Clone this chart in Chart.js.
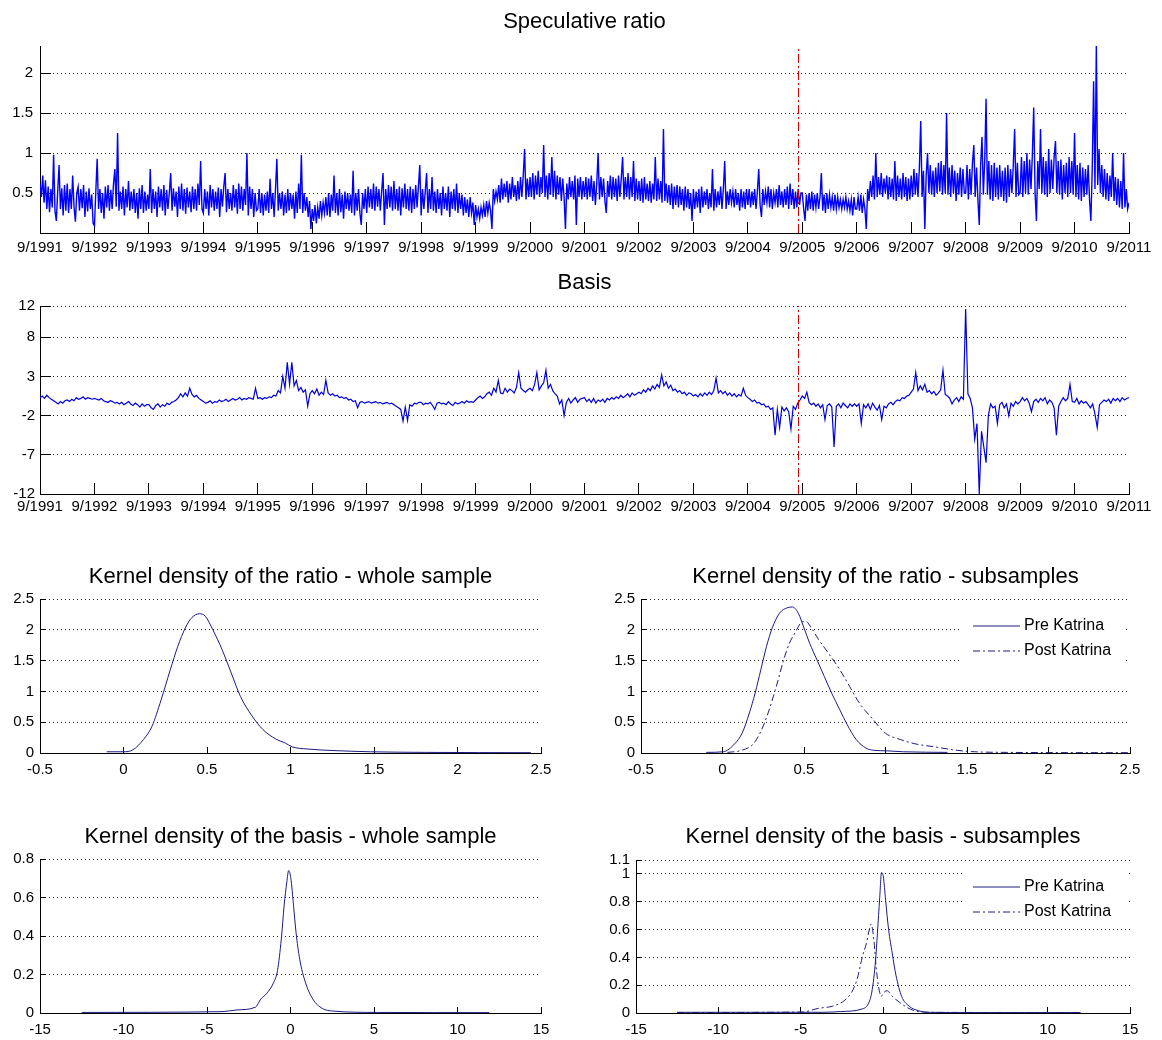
<!DOCTYPE html>
<html>
<head>
<meta charset="utf-8">
<script src="https://cdn.jsdelivr.net/npm/chart.js@4.4.1/dist/chart.umd.min.js"></script>
<style>
  html, body { margin: 0; padding: 0; background: #fff; }
  #page { position: relative; width: 1162px; height: 1040px; overflow: hidden; }
  #page canvas { position: absolute; left: 0; top: 0; }
</style>
</head>
<body>
<div id="page">
  <canvas id="ratioTs" width="1162" height="1040"></canvas>
  <canvas id="basisTs" width="1162" height="1040"></canvas>
  <canvas id="ratioWhole" width="1162" height="1040"></canvas>
  <canvas id="ratioSub" width="1162" height="1040"></canvas>
  <canvas id="basisWhole" width="1162" height="1040"></canvas>
  <canvas id="basisSub" width="1162" height="1040"></canvas>
</div>
<script>
// date axis: years counted from 9/1991
const dateLabels = ['9/1991', '9/1992', '9/1993', '9/1994', '9/1995', '9/1996', '9/1997', '9/1998', '9/1999', '9/2000',
  '9/2001', '9/2002', '9/2003', '9/2004', '9/2005', '9/2006', '9/2007', '9/2008', '9/2009', '9/2010', '9/2011'];
const katrina = [13.93];

// speculative ratio, 40 readings per year (one row = one year)
const ratioPerYear = 40;
const ratioValues = [
  0.62, 0.45, 0.72, 0.38, 0.66, 0.30, 0.58, 0.26, 0.55, 0.32, 0.98, 0.28, 0.15, 0.52, 0.85, 0.30, 0.56, 0.22, 0.60, 0.28,
  0.62, 0.25, 0.55, 0.30, 0.72, 0.33, 0.14, 0.50, 0.58, 0.28, 0.55, 0.31, 0.60, 0.20, 0.52, 0.27, 0.56, 0.30, 0.48, 0.12,
  0.09, 0.52, 0.93, 0.30, 0.55, 0.25, 0.50, 0.18, 0.58, 0.32, 0.60, 0.28, 0.54, 0.30, 0.62, 0.80, 0.33, 1.25, 0.28, 0.52,
  0.30, 0.58, 0.22, 0.55, 0.32, 0.65, 0.28, 0.52, 0.30, 0.55, 0.25, 0.50, 0.18, 0.56, 0.30, 0.60, 0.25, 0.52, 0.28, 0.48,
  0.30, 0.80, 0.25, 0.55, 0.30, 0.52, 0.20, 0.58, 0.32, 0.55, 0.28, 0.60, 0.22, 0.54, 0.30, 0.50, 0.75, 0.28, 0.56, 0.33,
  0.52, 0.20, 0.58, 0.30, 0.62, 0.28, 0.55, 0.24, 0.57, 0.32, 0.52, 0.26, 0.58, 0.30, 0.55, 0.28, 0.62, 0.35, 0.90, 0.30,
  0.25, 0.55, 0.30, 0.52, 0.22, 0.60, 0.32, 0.55, 0.28, 0.52, 0.30, 0.57, 0.20, 0.55, 0.33, 0.58, 0.75, 0.26, 0.55, 0.30,
  0.50, 0.28, 0.60, 0.32, 0.55, 0.24, 0.62, 0.30, 0.58, 0.28, 0.55, 0.35, 1.00, 0.22, 0.58, 0.30, 0.55, 0.20, 0.50, 0.28,
  0.30, 0.55, 0.25, 0.50, 0.22, 0.48, 0.28, 0.52, 0.25, 0.68, 0.30, 0.50, 0.20, 0.55, 0.93, 0.28, 0.50, 0.30, 0.52, 0.22,
  0.48, 0.25, 0.55, 0.28, 0.50, 0.30, 0.48, 0.18, 0.52, 0.25, 0.62, 0.30, 0.98, 0.25, 0.50, 0.28, 0.45, 0.20, 0.40, 0.05,
  0.30, 0.15, 0.35, 0.12, 0.32, 0.18, 0.40, 0.22, 0.38, 0.25, 0.45, 0.22, 0.50, 0.20, 0.48, 0.28, 0.72, 0.25, 0.50, 0.22,
  0.55, 0.26, 0.48, 0.18, 0.52, 0.30, 0.50, 0.28, 0.48, 0.25, 0.78, 0.22, 0.50, 0.28, 0.55, 0.25, 0.10, 0.50, 0.30, 0.55,
  0.25, 0.58, 0.32, 0.55, 0.30, 0.62, 0.28, 0.58, 0.33, 0.55, 0.28, 0.52, 0.75, 0.10, 0.55, 0.30, 0.60, 0.32, 0.58, 0.28,
  0.65, 0.30, 0.55, 0.28, 0.58, 0.22, 0.56, 0.32, 0.62, 0.30, 0.55, 0.28, 0.58, 0.25, 0.55, 0.30, 0.60, 0.32, 0.58, 0.85,
  0.22, 0.55, 0.30, 0.52, 0.75, 0.25, 0.55, 0.30, 0.70, 0.28, 0.52, 0.25, 0.55, 0.30, 0.50, 0.22, 0.58, 0.30, 0.50, 0.28,
  0.58, 0.20, 0.52, 0.30, 0.55, 0.28, 0.62, 0.25, 0.50, 0.30, 0.48, 0.22, 0.45, 0.25, 0.42, 0.20, 0.45, 0.25, 0.38, 0.10,
  0.35, 0.20, 0.30, 0.18, 0.32, 0.22, 0.35, 0.20, 0.40, 0.25, 0.38, 0.28, 0.05, 0.55, 0.40, 0.52, 0.42, 0.60, 0.38, 0.68,
  0.42, 0.62, 0.45, 0.65, 0.38, 0.62, 0.42, 0.70, 0.45, 0.60, 0.40, 0.65, 0.42, 0.70, 0.45, 0.72, 1.05, 0.42, 0.68, 0.45,
  0.70, 0.45, 0.75, 0.42, 0.72, 0.48, 0.78, 0.45, 0.70, 0.50, 1.10, 0.45, 0.72, 0.42, 0.75, 0.48, 0.95, 0.45, 0.78, 0.42,
  0.72, 0.48, 0.70, 0.40, 0.68, 0.45, 0.05, 0.62, 0.42, 0.70, 0.45, 0.65, 0.42, 0.72, 0.10, 0.68, 0.45, 0.70, 0.42, 0.65,
  0.45, 0.70, 0.42, 0.68, 0.45, 0.72, 0.40, 0.65, 0.35, 0.62, 1.00, 0.42, 0.70, 0.45, 0.68, 0.40, 0.25, 0.65, 0.45, 0.72,
  0.42, 0.70, 0.45, 0.68, 0.40, 0.72, 0.45, 0.68, 0.95, 0.42, 0.70, 0.45, 0.75, 0.42, 0.70, 0.45, 0.90, 0.40, 0.68, 0.42,
  0.65, 0.40, 0.68, 0.38, 0.70, 0.42, 0.62, 0.40, 0.65, 0.38, 0.62, 0.42, 0.95, 0.40, 0.68, 0.42, 0.65, 0.38, 1.30, 0.40,
  0.62, 0.38, 0.60, 0.35, 0.62, 0.30, 0.58, 0.35, 0.60, 0.32, 0.58, 0.35, 0.55, 0.28, 0.58, 0.32, 0.55, 0.30, 0.50, 0.15,
  0.55, 0.30, 0.52, 0.32, 0.55, 0.25, 0.58, 0.32, 0.52, 0.35, 0.55, 0.30, 0.50, 0.32, 0.80, 0.28, 0.55, 0.32, 0.52, 0.35,
  0.58, 0.30, 0.55, 0.90, 0.30, 0.52, 0.35, 0.55, 0.38, 0.52, 0.32, 0.55, 0.35, 0.50, 0.28, 0.55, 0.32, 0.52, 0.30, 0.55,
  0.35, 0.55, 0.32, 0.52, 0.35, 0.55, 0.30, 0.52, 0.80, 0.35, 0.20, 0.55, 0.35, 0.52, 0.38, 0.58, 0.32, 0.55, 0.30, 0.50,
  0.38, 0.55, 0.32, 0.60, 0.35, 0.52, 0.32, 0.55, 0.35, 0.58, 0.30, 0.62, 0.35, 0.55, 0.30, 0.52, 0.32, 0.55, 0.35, 0.50,
  0.50, 0.30, 0.15, 0.48, 0.28, 0.50, 0.30, 0.52, 0.28, 0.48, 0.32, 0.50, 0.30, 0.45, 0.75, 0.28, 0.48, 0.25, 0.50, 0.30,
  0.48, 0.32, 0.45, 0.28, 0.48, 0.30, 0.45, 0.32, 0.42, 0.30, 0.42, 0.32, 0.45, 0.30, 0.40, 0.28, 0.42, 0.22, 0.45, 0.30,
  0.30, 0.45, 0.28, 0.48, 0.25, 0.42, 0.30, 0.05, 0.55, 0.40, 0.65, 0.45, 0.72, 0.42, 1.00, 0.45, 0.70, 0.48, 0.75, 0.45,
  0.68, 0.50, 0.72, 0.42, 0.70, 0.45, 0.68, 0.42, 0.90, 0.40, 0.72, 0.45, 0.68, 0.42, 0.75, 0.45, 0.70, 0.40, 0.68, 0.42,
  0.72, 0.45, 0.80, 0.48, 0.75, 0.45, 0.82, 1.40, 0.45, 0.78, 0.05, 0.72, 1.00, 0.50, 0.85, 0.48, 0.78, 0.45, 0.82, 0.50,
  0.88, 0.52, 0.90, 0.48, 0.85, 0.50, 1.50, 0.48, 0.82, 0.45, 0.85, 0.50, 0.78, 0.40, 0.75, 0.48, 0.82, 0.45, 0.80, 0.50,
  0.50, 0.85, 0.42, 0.80, 0.48, 0.88, 1.10, 0.45, 0.82, 0.42, 0.10, 0.85, 1.20, 0.48, 0.90, 1.68, 0.48, 0.90, 0.42, 0.85,
  0.40, 0.88, 0.45, 0.82, 0.42, 0.85, 0.45, 0.78, 0.40, 0.82, 0.38, 0.85, 0.45, 0.80, 0.50, 0.85, 1.30, 0.45, 0.88, 0.48,
  0.50, 0.95, 0.45, 0.90, 0.50, 1.00, 0.48, 0.92, 0.55, 0.98, 1.57, 0.50, 0.15, 0.90, 0.55, 1.30, 0.50, 0.95, 0.48, 0.90,
  0.45, 1.05, 0.50, 0.92, 0.55, 0.95, 1.15, 0.50, 0.90, 0.48, 0.92, 0.42, 0.85, 0.50, 0.88, 0.45, 0.95, 0.50, 0.90, 0.48,
  1.25, 0.45, 0.85, 0.42, 0.88, 0.40, 0.82, 0.45, 0.80, 0.48, 0.85, 0.42, 0.15, 0.80, 1.90, 0.55, 2.35, 0.60, 1.05, 0.50,
  0.85, 0.45, 0.80, 0.42, 0.75, 0.40, 0.72, 0.45, 1.00, 0.40, 0.70, 0.35, 0.68, 0.32, 0.65, 0.30, 1.00, 0.32, 0.55, 0.30,
  0.38
];

// basis, 24 readings per year (one row = one year)
const basisPerYear = 24;
const basisValues = [
  0.3, 0.5, 0.2, 0.6, 0.3, 0.1, -0.1, -0.3, -0.5, -0.2, -0.4, -0.1, 0.0, -0.2, 0.1, -0.1, 0.3, 0.1, 0.2, 0.4, 0.1, 0.3, 0.2, 0.1,
  0.2, 0.1, 0.0, 0.2, -0.1, -0.2, -0.3, -0.1, -0.2, -0.4, -0.3, -0.5, -0.3, -0.6, -0.4, -0.2, -0.5, -0.7, -0.4, -0.6, -0.9, -0.5, -0.8, -0.6,
  -0.6, -1.0, -1.2, -0.7, -0.5, -0.9, -0.6, -0.8, -0.4, -0.6, -0.3, -0.2, 0.0, 0.3, 0.8, 0.4, 0.9, 0.5, 1.5, 0.7, 0.4, 0.6, 0.2, 0.0,
  -0.2, -0.4, -0.3, -0.1, -0.4, -0.2, -0.3, 0.0, -0.2, -0.1, 0.1, -0.2, 0.0, 0.2, 0.0, 0.1, 0.3, 0.0, 0.2, 0.1, 0.3, 0.2, 0.1, 1.5,
  0.2, 0.3, 0.1, 0.3, 0.2, 0.4, 0.3, 0.6, 0.5, 1.2, 0.9, 3.0, 1.5, 4.8, 2.0, 4.8, 1.8, 2.5, 1.2, 1.6, 1.0, 1.3, -0.8, 0.8,
  1.2, 0.8, 1.4, 0.6, 1.0, 0.7, 2.5, 0.9, 0.6, 0.8, 0.5, 0.6, 0.3, 0.4, 0.2, 0.3, 0.0, 0.1, -0.2, -0.1, -1.0, -0.3, -0.2, -0.4,
  -0.3, -0.2, -0.4, -0.3, -0.2, -0.4, -0.3, -0.5, -0.4, -0.3, -0.5, -0.4, -0.6, -0.8, -1.0, -1.2, -2.7, -0.9, -2.6, -0.6, -0.8, -0.4, -0.5, -0.3,
  -0.3, -0.6, -0.4, -0.5, -0.3, -0.7, -1.2, -0.4, -0.3, -0.5, -0.4, -0.6, -0.2, -0.5, -0.7, -0.3, -0.5, -0.4, -0.2, -0.4, -0.1, -0.3, -0.2, -0.3,
  0.0, 0.3, 0.5, 0.2, 0.4, 0.8, 1.0, 0.6, 1.5, 1.0, 2.5, 0.9, 0.8, 1.5, 1.0, 1.4, 1.2, 0.9, 1.6, 3.5, 1.5, 1.2, 1.0, 1.3,
  1.5, 1.2, 2.0, 3.5, 1.3, 1.8, 2.2, 3.8, 1.5, 2.0, 1.2, 0.8, 0.5, -0.5, 0.0, -2.0, -0.3, 0.2, -0.4, 0.0, 0.3, -0.3, 0.1, 0.2,
  0.3, -0.2, 0.1, -0.3, 0.2, -0.4, 0.0, -0.2, 0.1, -0.3, 0.2, 0.0, 0.3, 0.1, 0.4, 0.2, 0.6, 0.3, 0.5, 0.8, 0.4, 0.9, 0.6, 0.8,
  1.0, 0.8, 1.3, 1.0, 1.5, 1.2, 1.8, 1.4, 2.0, 1.6, 3.2, 1.8, 2.3, 1.5, 1.9, 1.2, 1.4, 1.0, 1.2, 0.8, 1.0, 0.6, 0.9, 0.8,
  0.5, 0.7, 0.4, 0.8, 0.5, 0.9, 0.6, 1.0, 0.7, 1.2, 2.8, 0.9, 1.2, 0.8, 1.1, 0.6, 0.9, 0.5, 0.8, 0.4, 0.7, 0.5, 1.5, 0.6,
  0.3, 0.1, -0.2, 0.0, -0.4, -0.3, -0.6, -0.5, -0.9, -0.8, -1.2, -1.0, -4.5, -1.2, -3.5, -0.9, -1.4, -1.0, -1.5, -3.7, -0.8, -1.2, -0.4, 0.0,
  0.5, 0.2, 1.0, -0.3, -0.6, -0.4, -0.8, -0.5, -1.0, -0.6, -2.5, -0.7, -0.5, -0.9, -6.0, -0.8, -0.5, -1.0, -0.4, -0.7, -1.0, -0.5, -0.8, -0.5,
  -0.8, -0.5, -3.0, -0.6, -1.0, -0.5, -1.2, -0.4, -0.9, -1.3, -0.7, -2.5, -0.8, -1.0, -0.5, -0.3, -0.6, -0.2, 0.0, -0.1, 0.3, 0.2, 0.5, 0.6,
  1.0, 1.4, 3.5, 1.2, 1.8, 1.3, 2.0, 1.0, 1.2, 0.8, 1.1, 0.6, 0.9, 1.3, 3.8, 0.7, 0.5, 0.2, -0.5, 0.0, 0.3, -0.2, 0.4, 0.1,
  11.6, 0.8, 0.2, -1.0, -5.0, -3.0, -12.0, -4.0, -6.0, -8.0, -2.0, -0.5, -1.0, -0.8, -3.0, -0.6, -0.3, -1.0, -0.5, -2.0, -0.4, -0.8, -0.2, -0.5,
  -0.2, 0.3, -0.1, 0.2, -0.4, -1.5, -0.2, 0.1, -0.3, 0.2, -0.1, 0.3, -0.5, 0.0, -0.3, -1.0, -4.5, -0.8, -0.2, 0.3, -0.1, 0.2, 2.0, -0.2,
  -0.3, 0.2, -0.5, -0.1, -0.4, -0.2, -0.6, -1.0, -0.5, -1.8, -3.5, -0.6, -0.3, 0.0, -0.2, 0.1, -0.4, 0.2, -0.1, 0.2, -0.2, 0.3, 0.0, 0.2,
  0.3
];

// kernel density of the ratio
const ratioGridWhole = [-0.1, 0, 0.055, 0.12, 0.17, 0.225, 0.28, 0.325, 0.37, 0.41, 0.455, 0.49, 0.535, 0.59, 0.645, 0.70, 0.77, 0.835, 0.91, 0.97, 1.01, 1.1, 1.255, 1.48, 1.81, 2.44];
const ratioDensWhole = [0.02, 0.02, 0.05, 0.22, 0.43, 0.86, 1.35, 1.73, 2.03, 2.2, 2.26, 2.22, 2.0, 1.68, 1.3, 0.92, 0.6, 0.38, 0.23, 0.16, 0.1, 0.065, 0.04, 0.02, 0.01, 0.005];
const ratioGridPre = [-0.1, 0.005, 0.075, 0.12, 0.165, 0.2, 0.235, 0.27, 0.305, 0.35, 0.4, 0.43, 0.465, 0.5, 0.535, 0.58, 0.625, 0.67, 0.72, 0.765, 0.82, 0.88, 0.925, 1.01, 1.11, 1.38];
const ratioDensPre = [0.01, 0.02, 0.15, 0.32, 0.65, 0.97, 1.35, 1.73, 2.03, 2.27, 2.36, 2.37, 2.27, 2.03, 1.78, 1.51, 1.24, 0.97, 0.7, 0.46, 0.22, 0.08, 0.045, 0.035, 0.02, 0.01];
const ratioGridPost = [0.03, 0.12, 0.19, 0.235, 0.28, 0.33, 0.375, 0.41, 0.445, 0.48, 0.51, 0.545, 0.59, 0.65, 0.72, 0.78, 0.84, 0.925, 1.0, 1.09, 1.18, 1.3, 1.41, 1.5, 1.74, 2.5];
const ratioDensPost = [0.01, 0.045, 0.15, 0.35, 0.65, 1.08, 1.51, 1.78, 1.95, 2.11, 2.14, 2.03, 1.84, 1.62, 1.35, 1.08, 0.81, 0.54, 0.32, 0.22, 0.15, 0.1, 0.054, 0.027, 0.01, 0.005];

// kernel density of the basis
const basisGridWhole = [-12.5, -4.1, -3.2, -2.1, -1.77, -1.44, -1.0, -0.78, -0.55, -0.38, -0.22, -0.11, 0.02, 0.18, 0.33, 0.55, 0.89, 1.33, 1.9, 2.55, 5.2, 11.9];
const basisDensWhole = [0.003, 0.007, 0.016, 0.03, 0.073, 0.1, 0.16, 0.22, 0.385, 0.56, 0.68, 0.74, 0.70, 0.56, 0.42, 0.28, 0.16, 0.073, 0.024, 0.01, 0.003, 0.002];
const basisGridPre = [-12.5, -3.7, -2.6, -1.24, -0.9, -0.68, -0.45, -0.34, -0.2, -0.09, 0.02, 0.16, 0.34, 0.56, 0.79, 1.13, 1.58, 2.14, 2.8, 5.0, 12.0];
const basisDensPre = [0.005, 0.005, 0.01, 0.03, 0.065, 0.15, 0.38, 0.57, 0.83, 1.01, 0.98, 0.81, 0.6, 0.43, 0.27, 0.12, 0.05, 0.017, 0.005, 0.003, 0.003];
const basisGridPost = [-12.5, -4.9, -3.94, -3.04, -2.36, -1.9, -1.58, -1.24, -1.01, -0.83, -0.72, -0.56, -0.4, -0.27, -0.11, 0.07, 0.25, 0.56, 1.01, 1.46, 1.9, 2.8, 12.0];
const basisDensPost = [0.003, 0.007, 0.033, 0.05, 0.088, 0.15, 0.24, 0.41, 0.5, 0.6, 0.64, 0.53, 0.31, 0.19, 0.12, 0.15, 0.16, 0.12, 0.076, 0.04, 0.017, 0.005, 0.003];

// tick values
const yearTicks = dateLabels.map((_, i) => i);
const ratioTsTicks = [0.5, 1, 1.5, 2];
const basisTsTicks = [-12, -7, -2, 3, 8, 12];
const ratioDensXTicks = [-0.5, 0, 0.5, 1, 1.5, 2, 2.5];
const ratioDensYTicks = [0, 0.5, 1, 1.5, 2, 2.5];
const basisDensXTicks = [-15, -10, -5, 0, 5, 10, 15];
const basisDensYTicksWhole = [0, 0.2, 0.4, 0.6, 0.8];
const basisDensYTicksSub = [0, 0.2, 0.4, 0.6, 0.8, 1, 1.1];

const W = 1162, H = 1040;
const FONT = "'Liberation Sans', Arial, Helvetica, sans-serif";
Chart.defaults.font.family = FONT;
Chart.defaults.font.size = 15;
Chart.defaults.color = '#000';

const toPoints = (xs, ys) => xs.map((x, i) => ({ x: x, y: ys[i] }));

// MATLAB style legend sitting inside the axes, white box over the grid
const insideLegend = {
  id: 'insideLegend',
  afterDatasetsDraw(chart, args, opts) {
    if (!opts.show) return;
    const { ctx, chartArea } = chart;
    const left = chartArea.right - 168;
    const top = chartArea.top + 7;
    ctx.save();
    ctx.fillStyle = '#fff';
    ctx.fillRect(left, top, 164, 62);
    ctx.font = '16px ' + FONT;
    ctx.textBaseline = 'middle';
    chart.data.datasets.forEach((ds, i) => {
      const y = top + 20 + i * 25;
      ctx.strokeStyle = ds.borderColor;
      ctx.lineWidth = 1;
      ctx.setLineDash(ds.borderDash || []);
      ctx.beginPath();
      ctx.moveTo(left + 11, y);
      ctx.lineTo(left + 58, y);
      ctx.stroke();
      ctx.setLineDash([]);
      ctx.fillStyle = '#000';
      ctx.fillText(ds.label, left + 62, y);
    });
    ctx.restore();
  }
};

function makeChart(id, c) {
  const padTop = c.titleY - 13.2;
  return new Chart(document.getElementById(id), {
    type: 'line',
    data: { datasets: c.datasets },
    options: {
      responsive: false,
      animation: false,
      events: [],
      layout: { autoPadding: false, padding: { left: 0, top: padTop, right: W - c.area.r, bottom: 0 } },
      elements: { point: { radius: 0 }, line: { borderWidth: 1, fill: false } },
      plugins: {
        legend: { display: false },
        tooltip: { enabled: false },
        title: {
          display: true, text: c.title, fullSize: false, color: '#000',
          font: { size: 22, weight: 'normal' },
          padding: { top: 0, bottom: c.area.t - padTop - 26.4 }
        },
        insideLegend: { show: !!c.legend }
      },
      scales: {
        x: {
          type: 'linear', position: 'bottom', min: c.xMin, max: c.xMax,
          afterBuildTicks: s => { s.ticks = c.xTicks.map(v => ({ value: v })); },
          afterFit: s => { s.height = H - c.area.b; s.paddingLeft = 0; s.paddingRight = 0; },
          grid: { drawOnChartArea: false, drawTicks: true, tickLength: -c.tickLen, tickColor: '#000', tickWidth: 1 },
          border: { display: true, color: '#000', width: 1 },
          ticks: { autoSkip: false, maxRotation: 0, minRotation: 0, padding: c.xPad, color: '#000', callback: c.xLabel }
        },
        y: {
          type: 'linear', position: 'left', min: c.yMin, max: c.yMax,
          afterBuildTicks: s => { s.ticks = c.yTicks.map(v => ({ value: v })); },
          afterFit: s => { s.width = c.area.l; s.paddingTop = 0; s.paddingBottom = 0; },
          grid: { drawOnChartArea: true, drawTicks: true, tickLength: -c.tickLen, color: '#222', lineWidth: 1, tickColor: '#000' },
          border: { display: true, color: '#000', width: 1, dash: [1, 3] },
          ticks: { autoSkip: false, padding: c.yPad, color: '#000', callback: v => String(v) }
        }
      }
    },
    plugins: [insideLegend]
  });
}

const katrinaLine = (lo, hi) => ({
  data: [{ x: katrina[0], y: lo }, { x: katrina[0], y: hi }],
  borderColor: '#d00000', borderWidth: 1, borderDash: [9, 3, 2, 3]
});

makeChart('ratioTs', {
  title: 'Speculative ratio', titleY: 22,
  area: { l: 40, t: 46, r: 1129, b: 233 },
  xMin: 0, xMax: 20, xTicks: yearTicks, xLabel: v => dateLabels[v],
  yMin: 0, yMax: 2.34, yTicks: ratioTsTicks,
  tickLen: 11, xPad: 17, yPad: 18,
  datasets: [
    katrinaLine(0, 2.34),
    { data: ratioValues.map((v, i) => ({ x: i / ratioPerYear, y: v })), borderColor: '#0000ff', borderWidth: 1.4 }
  ]
});

makeChart('basisTs', {
  title: 'Basis', titleY: 283,
  area: { l: 40, t: 306, r: 1129, b: 494 },
  xMin: 0, xMax: 20, xTicks: yearTicks, xLabel: v => dateLabels[v],
  yMin: -12, yMax: 12, yTicks: basisTsTicks,
  tickLen: 11, xPad: 15, yPad: 16,
  datasets: [
    katrinaLine(-12, 12),
    { data: basisValues.map((v, i) => ({ x: i / basisPerYear, y: v })), borderColor: '#0000dd', borderWidth: 1.2 }
  ]
});

const densityLine = (label, xs, ys, dash) => ({
  label: label, data: toPoints(xs, ys), borderColor: '#1c1c80', borderDash: dash,
  cubicInterpolationMode: 'monotone'
});

makeChart('ratioWhole', {
  title: 'Kernel density of the ratio - whole sample', titleY: 577,
  area: { l: 40, t: 599, r: 541, b: 753 },
  xMin: -0.5, xMax: 2.5, xTicks: ratioDensXTicks, xLabel: v => String(v),
  yMin: 0, yMax: 2.5, yTicks: ratioDensYTicks,
  tickLen: 6, xPad: 14, yPad: 12,
  datasets: [densityLine('Whole sample', ratioGridWhole, ratioDensWhole, [])]
});

makeChart('ratioSub', {
  title: 'Kernel density of the ratio - subsamples', titleY: 577,
  area: { l: 641, t: 599, r: 1130, b: 753 },
  xMin: -0.5, xMax: 2.5, xTicks: ratioDensXTicks, xLabel: v => String(v),
  yMin: 0, yMax: 2.5, yTicks: ratioDensYTicks,
  tickLen: 6, xPad: 14, yPad: 12, legend: true,
  datasets: [
    densityLine('Pre Katrina', ratioGridPre, ratioDensPre, []),
    densityLine('Post Katrina', ratioGridPost, ratioDensPost, [7, 3, 2, 3])
  ]
});

makeChart('basisWhole', {
  title: 'Kernel density of the basis - whole sample', titleY: 837,
  area: { l: 40, t: 859, r: 541, b: 1013 },
  xMin: -15, xMax: 15, xTicks: basisDensXTicks, xLabel: v => String(v),
  yMin: 0, yMax: 0.8, yTicks: basisDensYTicksWhole,
  tickLen: 6, xPad: 14, yPad: 12,
  datasets: [densityLine('Whole sample', basisGridWhole, basisDensWhole, [])]
});

makeChart('basisSub', {
  title: 'Kernel density of the basis - subsamples', titleY: 837,
  area: { l: 636, t: 860, r: 1130, b: 1013 },
  xMin: -15, xMax: 15, xTicks: basisDensXTicks, xLabel: v => String(v),
  yMin: 0, yMax: 1.1, yTicks: basisDensYTicksSub,
  tickLen: 6, xPad: 14, yPad: 12, legend: true,
  datasets: [
    densityLine('Pre Katrina', basisGridPre, basisDensPre, []),
    densityLine('Post Katrina', basisGridPost, basisDensPost, [7, 3, 2, 3])
  ]
});
</script>
</body>
</html>
